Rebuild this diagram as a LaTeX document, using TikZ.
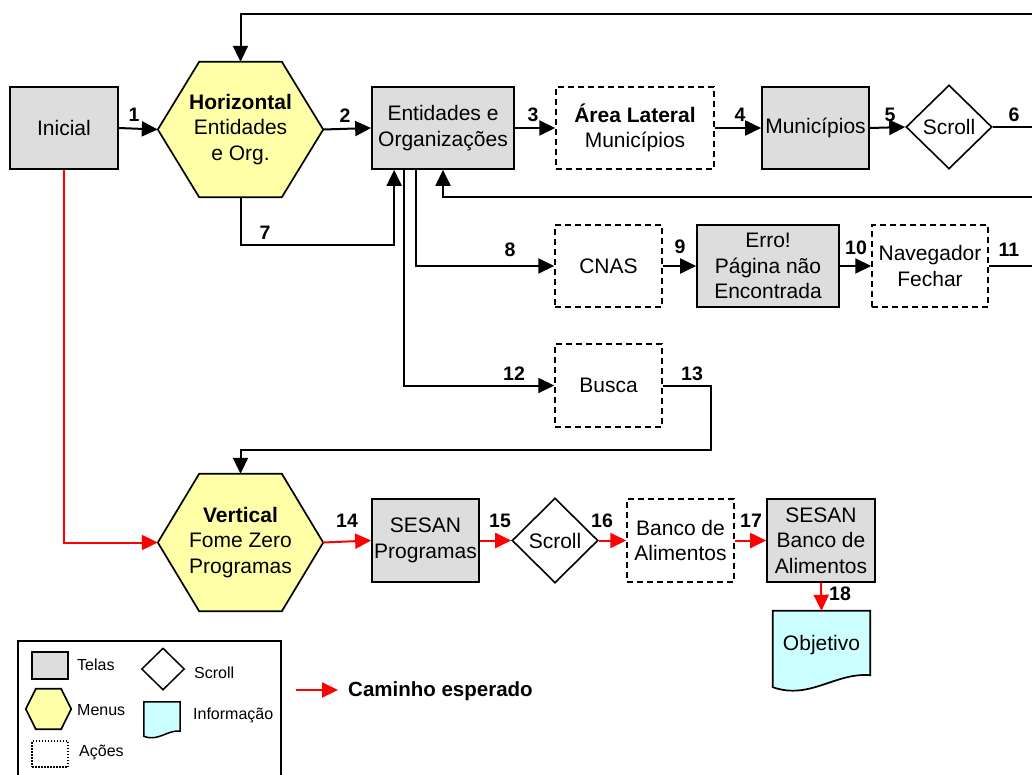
\documentclass[tikz,border=0pt]{standalone}
\usepackage{fontspec}
\setmainfont{Liberation Sans}
\usetikzlibrary{arrows.meta,shapes.geometric,calc,backgrounds}
\definecolor{gfill}{HTML}{DDDDDD}
\definecolor{yfill}{HTML}{FFFFA8}
\definecolor{cfill}{HTML}{CCFFFF}
\definecolor{rline}{HTML}{FF0000}
\newcommand\mainfs{\fontsize{21}{25.5}\selectfont}
\newcommand\numfs{\fontsize{19.5}{22}\selectfont\bfseries}
\newcommand\legfs{\fontsize{16}{19}\selectfont}
\newcommand\hexpath[2]{\draw[hexdraw] (#1.west) -- ($(#1.north west)!#2!(#1.north east)$) -- ($(#1.north east)!#2!(#1.north west)$) -- (#1.east) -- ($(#1.south east)!#2!(#1.south west)$) -- ($(#1.south west)!#2!(#1.south east)$) -- cycle;}
\tikzset{
  tela/.style={draw, fill=gfill, line width=1.7pt, inner sep=0pt, align=center, font=\mainfs},
  acao/.style={draw, dash pattern=on 6pt off 4pt, line width=1.5pt, inner sep=0pt, align=center, font=\mainfs},
  hexbox/.style={inner sep=0pt, align=center, font=\mainfs},
  hexdraw/.style={draw, fill=yfill, line width=1.7pt, line join=miter},
  docdraw/.style={draw, fill=cfill, line width=1.7pt},
  scrl/.style={diamond, draw, line width=1.6pt, inner sep=0pt, font=\mainfs},
  conn/.style={line width=2pt, -{Triangle[length=16pt,width=15pt]}},
  rconn/.style={conn, draw=rline},
  plainln/.style={line width=2pt},
  num/.style={font=\numfs, inner sep=0pt},
  leg/.style={font=\legfs, anchor=west, inner sep=0pt},
}
\begin{document}
\begin{tikzpicture}[x=1pt,y=-1pt]
\useasboundingbox (0,0) rectangle (1032,774);
\clip (0,0) rectangle (1032,774);
% nodes
\node[tela, minimum width=108pt, minimum height=82pt] (ini) at (64,128) {Inicial};
\node[hexbox, minimum width=165pt, minimum height=135pt] (h1) at (240.5,129.5) {\textbf{Horizontal}\\Entidades\\e Org.};
\node[tela, minimum width=142pt, minimum height=82pt] (ent) at (443,128) {Entidades e\\Organizações};
\node[acao, minimum width=158pt, minimum height=82pt] (area) at (635,128) {\textbf{Área Lateral}\\Municípios};
\node[tela, minimum width=107pt, minimum height=82pt] (mun) at (815.5,128) {Municípios};
\node[scrl, minimum width=86pt, minimum height=84pt] (sc1) at (949,127) {Scroll};
\node[acao, minimum width=107pt, minimum height=82pt] (cnas) at (608.5,266) {CNAS};
\node[tela, minimum width=142pt, minimum height=82pt] (err) at (768,266) {Erro!\\Página não\\Encontrada};
\node[acao, minimum width=116pt, minimum height=82pt] (nav) at (930,266) {Navegador\\Fechar};
\node[acao, minimum width=107pt, minimum height=83pt] (busca) at (608.5,385.5) {Busca};
\node[hexbox, minimum width=165pt, minimum height=137pt] (h2) at (240.5,542.5) {\textbf{Vertical}\\Fome Zero\\Programas};
\node[tela, minimum width=107pt, minimum height=83pt] (sp) at (425.5,540.5) {SESAN\\Programas};
\node[scrl, minimum width=86pt, minimum height=85pt] (sc2) at (555,540.5) {Scroll};
\node[acao, minimum width=107pt, minimum height=83pt] (banco) at (680.5,540.5) {Banco de\\Alimentos};
\node[tela, minimum width=108pt, minimum height=83pt] (sb) at (821,540.5) {SESAN\\Banco de\\Alimentos};
\node[hexbox, minimum width=97pt, minimum height=68pt] (obj) at (821.5,645) {Objetivo};
% legend nodes
\node[draw, fill=gfill, line width=1.5pt, minimum width=36pt, minimum height=27pt, inner sep=0pt] (lgT) at (50,665.5) {};
\node[leg] (lgTt) at (77,665) {Telas};
\node[hexbox, minimum width=45pt, minimum height=40pt] (lgH) at (48.5,709) {};
\node[leg] (lgHt) at (77,710) {Menus};
\node[draw, dash pattern=on 1.5pt off 1.5pt, line width=1.4pt, minimum width=36pt, minimum height=26pt, inner sep=0pt] (lgA) at (50,754) {};
\node[leg] (lgAt) at (79,752) {Ações};
\node[diamond, draw, line width=1.5pt, minimum width=43pt, minimum height=42pt, inner sep=0pt] (lgS) at (163,669) {};
\node[leg] (lgSt) at (194,673) {Scroll};
\node[inner sep=0pt, minimum width=36pt, minimum height=31pt] (lgI) at (162,717.5) {};
\node[leg] (lgIt) at (193,715) {Informação};
% shapes on background
\begin{pgfonlayer}{background}
\fill[white] (0,0) rectangle (1032,774);
\hexpath{h1}{0.25}
\hexpath{h2}{0.25}
\hexpath{lgH}{0.22}
\draw[docdraw] ($(obj.south west)+(0,8)$) -- (obj.north west) -- (obj.north east) -- ($(obj.south east)+(0,-4)$) .. controls ($(obj.south east)+(-35,-7)$) and ($(obj.south west)+(37,21)$) .. ($(obj.south west)+(0,8)$) -- cycle;
\draw[docdraw, line width=1.5pt] ($(lgI.south west)+(0,3)$) -- (lgI.north west) -- (lgI.north east) -- ($(lgI.south east)+(0,-2)$) .. controls ($(lgI.south east)+(-12,-4)$) and ($(lgI.south west)+(14,9)$) .. ($(lgI.south west)+(0,3)$) -- cycle;
\end{pgfonlayer}
% free ends
\coordinate (eTop) at (1040,14);
\coordinate (eRet) at (1040,197);
\coordinate (e6) at (1040,127);
\coordinate (e11) at (1040,266);
\coordinate (s7) at ($(ent.south west)+(23,0)$);
\coordinate (s12) at ($(ent.south west)+(33,0)$);
\coordinate (s8) at ($(ent.south west)+(45,0)$);
% connectors
\draw[conn] (ini.east) -- (h1.west);
\draw[conn] (h1.east) -- (ent.west);
\draw[conn] (ent.east) -- (area.west);
\draw[conn] (area.east) -- (mun.west);
\draw[conn] (mun.east) -- (sc1.west);
\draw[plainln] (sc1.east) -- (e6);
\draw[conn] (eTop) -- (eTop -| h1.north) -- (h1.north);
\draw[conn] (eRet) -- (eRet -| ent.south) -- (ent.south);
\draw[conn] (h1.south) -- ++(0,48) -| (s7);
\draw[conn] (s8) |- (cnas.west);
\draw[conn] (cnas.east) -- (err.west);
\draw[conn] (err.east) -- (nav.west);
\draw[plainln] (nav.east) -- (e11);
\draw[conn] (s12) |- (busca.west);
\draw[conn] (busca.east) -- ++(48,0) -- ++(0,64) -| (h2.north);
\draw[rconn] (ini.south) |- (h2.west);
\draw[rconn] (h2.east) -- (sp.west);
\draw[rconn] (sp.east) -- (sc2.west);
\draw[rconn] (sc2.east) -- (banco.west);
\draw[rconn] (banco.east) -- (sb.west);
\draw[rconn] (sb.south) -- (obj.north);
% labels
\node[num] (l1) at (134,115) {1};
\node[num] (l2) at (345,116) {2};
\node[num] (l3) at (533,115) {3};
\node[num] (l4) at (740,115) {4};
\node[num] (l5) at (890,115) {5};
\node[num] (l6) at (1014,115) {6};
\node[num] (l7) at (265,233) {7};
\node[num] (l8) at (510,250) {8};
\node[num] (l9) at (680,247) {9};
\node[num] (l10) at (856,248) {10};
\node[num] (l11) at (1009,250) {11};
\node[num] (l12) at (514,374) {12};
\node[num] (l13) at (692,374) {13};
\node[num] (l14) at (347,521) {14};
\node[num] (l15) at (500,521) {15};
\node[num] (l16) at (602,521) {16};
\node[num] (l17) at (751,521) {17};
\node[num] (l18) at (840,594) {18};
% legend frame and arrow
\draw[line width=1.7pt] (18,641) rectangle (281,800);
\coordinate (lr0) at (296,690);
\node[font=\fontsize{20.5}{24}\selectfont\bfseries, anchor=west, inner sep=0pt] (lgR) at (348,691) {Caminho esperado};
\draw[rconn] (lr0) -- ($(lgR.west)+(-10,-1)$);
\end{tikzpicture}
\end{document}
